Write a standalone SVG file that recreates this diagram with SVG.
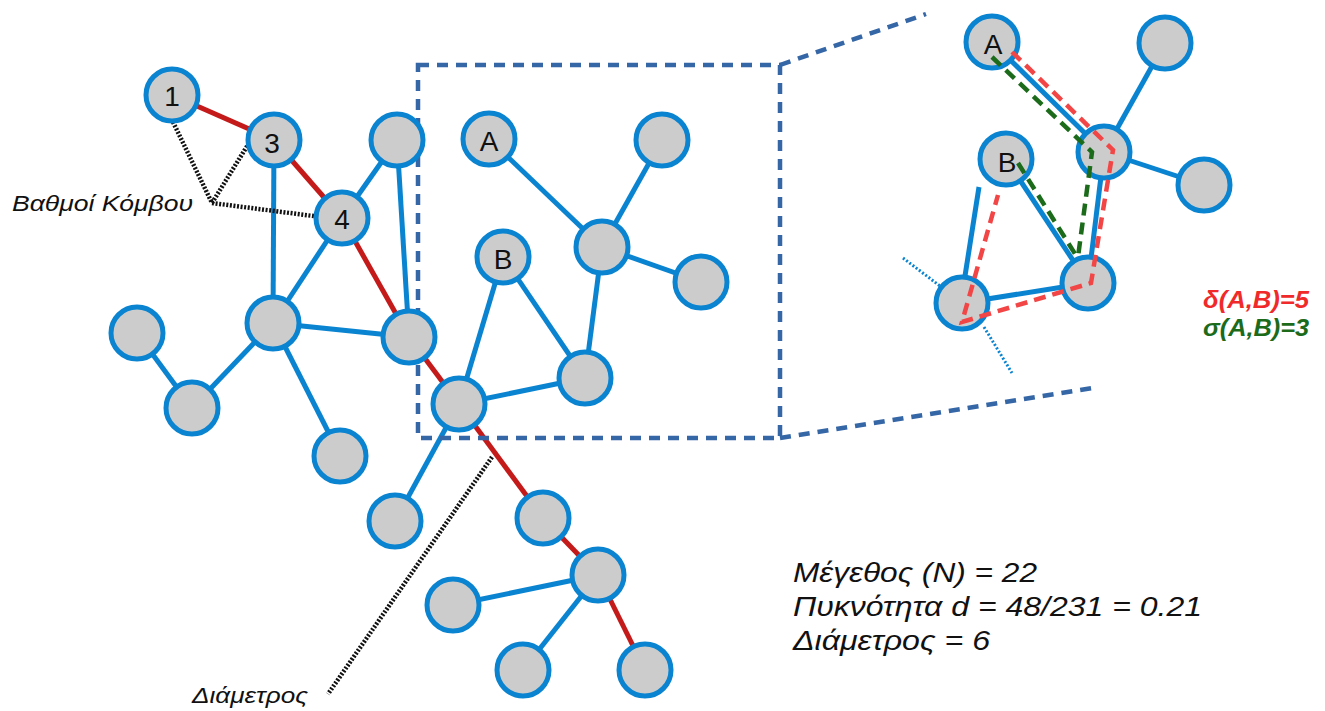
<svg xmlns="http://www.w3.org/2000/svg" width="1325" height="711" viewBox="0 0 1325 711">
<defs>
<style>
.e{stroke:#0a84d0;stroke-width:5;fill:none}
.d{stroke:#c41a1a;stroke-width:5;fill:none}
.n circle{fill:#cccccc;stroke:#0a84d0;stroke-width:5}
.n text,.lbl{font-family:"Liberation Sans",Arial,sans-serif;fill:#111}
.n text{font-size:28px;text-anchor:middle}
.box{stroke:#3566a6;stroke-width:4.5;fill:none;stroke-dasharray:11 8}
.dot{stroke:#111;stroke-width:4.5;fill:none;stroke-dasharray:2 1.6}
.bdot{stroke:#0a84d0;stroke-width:3;fill:none;stroke-dasharray:2 2}
.rp{stroke:#f24545;stroke-width:4.5;fill:none;stroke-dasharray:12 7}
.gp{stroke:#1b6b1b;stroke-width:4.5;fill:none;stroke-dasharray:12 7}
.it{font-style:italic}
.res{font-family:"Liberation Sans",Arial,sans-serif;font-size:24px;font-weight:bold;font-style:italic}
</style>
</defs>
<rect width="1325" height="711" fill="#ffffff"/>
<g id="connectors">
<line class="e" x1="274" y1="140" x2="273" y2="323"/>
<line class="e" x1="342" y1="218" x2="397" y2="140"/>
<line class="e" x1="342" y1="218" x2="273" y2="323"/>
<line class="e" x1="397" y1="140" x2="409" y2="337"/>
<line class="e" x1="273" y1="323" x2="409" y2="337"/>
<line class="e" x1="273" y1="323" x2="192" y2="408"/>
<line class="e" x1="273" y1="323" x2="340" y2="455"/>
<line class="e" x1="137" y1="333" x2="192" y2="408"/>
<line class="e" x1="459" y1="404" x2="503" y2="257"/>
<line class="e" x1="459" y1="404" x2="585" y2="378"/>
<line class="e" x1="503" y1="257" x2="585" y2="378"/>
<line class="e" x1="585" y1="378" x2="602" y2="247"/>
<line class="e" x1="602" y1="247" x2="489" y2="139"/>
<line class="e" x1="602" y1="247" x2="662" y2="140"/>
<line class="e" x1="602" y1="247" x2="701" y2="282"/>
<line class="e" x1="459" y1="404" x2="395" y2="521"/>
<line class="e" x1="598" y1="575" x2="453" y2="605"/>
<line class="e" x1="598" y1="575" x2="523" y2="670"/>
<line class="d" x1="172" y1="95" x2="274" y2="140"/>
<line class="d" x1="274" y1="140" x2="342" y2="218"/>
<line class="d" x1="342" y1="218" x2="409" y2="337"/>
<line class="d" x1="409" y1="337" x2="459" y2="404"/>
<line class="d" x1="459" y1="404" x2="543" y2="518"/>
<line class="d" x1="543" y1="518" x2="598" y2="575"/>
<line class="d" x1="598" y1="575" x2="645" y2="670"/>
<polyline class="dot" points="173,122 212,203 249,143"/>
<line class="dot" x1="212" y1="203" x2="321" y2="217"/>
<line class="dot" x1="492" y1="457" x2="328" y2="694"/>
<rect class="box" x="418" y="65" width="362" height="373"/>
<line class="box" x1="780" y1="65" x2="926" y2="14"/>
<line class="box" x1="780" y1="438" x2="1093" y2="388"/>
<line class="e" x1="992" y1="42" x2="1104" y2="152"/>
<line class="e" x1="1104" y1="152" x2="1165" y2="43"/>
<line class="e" x1="1104" y1="152" x2="1204" y2="185"/>
<line class="e" x1="1104" y1="152" x2="1088" y2="283"/>
<line class="e" x1="1006" y1="159" x2="1088" y2="283"/>
<line class="e" x1="1088" y1="283" x2="962" y2="303"/>
<line class="e" x1="979" y1="187" x2="962" y2="295"/>
<line class="bdot" x1="903" y1="258" x2="940" y2="286"/>
<line class="bdot" x1="984" y1="327" x2="1012" y2="373"/>
</g>
<g id="n1" class="n"><circle cx="172" cy="95" r="26"/><text x="172" y="106">1</text></g>
<g id="n3" class="n"><circle cx="274" cy="140" r="26"/><text x="272" y="153">3</text></g>
<g id="n4" class="n"><circle cx="342" cy="218" r="26"/><text x="342" y="229">4</text></g>
<g id="nTR" class="n"><circle cx="397" cy="140" r="26"/></g>
<g id="nM" class="n"><circle cx="273" cy="323" r="26"/></g>
<g id="nR" class="n"><circle cx="409" cy="337" r="26"/></g>
<g id="nL1" class="n"><circle cx="137" cy="333" r="26"/></g>
<g id="nL2" class="n"><circle cx="192" cy="408" r="26"/></g>
<g id="nB1" class="n"><circle cx="340" cy="456" r="26"/></g>
<g id="nX" class="n"><circle cx="459" cy="404" r="26"/></g>
<g id="nA" class="n"><circle cx="489" cy="139" r="26"/><text x="489" y="151">A</text></g>
<g id="nB" class="n"><circle cx="503" cy="257" r="26"/><text x="503" y="269">B</text></g>
<g id="nHub" class="n"><circle cx="602" cy="247" r="26"/></g>
<g id="nTop" class="n"><circle cx="662" cy="140" r="26"/></g>
<g id="nRight" class="n"><circle cx="701" cy="282" r="26"/></g>
<g id="nLow" class="n"><circle cx="585" cy="378" r="26"/></g>
<g id="nXd" class="n"><circle cx="395" cy="521" r="26"/></g>
<g id="nD1" class="n"><circle cx="543" cy="518" r="26"/></g>
<g id="nD2" class="n"><circle cx="598" cy="575" r="26"/></g>
<g id="nD3" class="n"><circle cx="453" cy="605" r="26"/></g>
<g id="nD4" class="n"><circle cx="523" cy="670" r="26"/></g>
<g id="nD5" class="n"><circle cx="645" cy="670" r="26"/></g>
<g id="iA" class="n"><circle cx="992" cy="42" r="26"/><text x="993" y="54">A</text></g>
<g id="iTop" class="n"><circle cx="1165" cy="43" r="26"/></g>
<g id="iHub" class="n"><circle cx="1104" cy="152" r="26"/></g>
<g id="iRight" class="n"><circle cx="1204" cy="185" r="26"/></g>
<g id="iB" class="n"><circle cx="1006" cy="159" r="26"/><text x="1007" y="172">B</text></g>
<g id="iLow" class="n"><circle cx="1088" cy="283" r="26"/></g>
<g id="iX" class="n"><circle cx="962" cy="303" r="26"/></g>
<g id="paths">
<polyline class="rp" points="1012,52 1113,150 1091,283 962,322 998,195"/>
<polyline class="gp" points="992,57 1092,152 1078,257"/>
<line class="gp" x1="1018" y1="163" x2="1077" y2="257"/>
</g>
<g id="labels">
<text class="lbl it" x="12" y="211" font-size="23" textLength="181" lengthAdjust="spacingAndGlyphs">Βαθμοί Κόμβου</text>
<text class="lbl it" x="192" y="703" font-size="23" textLength="116" lengthAdjust="spacingAndGlyphs">Διάμετρος</text>
<text class="res" x="1203" y="308" fill="#f02a2a" textLength="106" lengthAdjust="spacingAndGlyphs">δ(A,B)=5</text>
<text class="res" x="1203" y="336" fill="#1b6b1b" textLength="106" lengthAdjust="spacingAndGlyphs">σ(A,B)=3</text>
<text class="lbl it" x="793" y="582" font-size="28" textLength="244" lengthAdjust="spacingAndGlyphs">Μέγεθος (N) = 22</text>
<text class="lbl it" x="793" y="616" font-size="28" textLength="409" lengthAdjust="spacingAndGlyphs">Πυκνότητα d = 48/231 = 0.21</text>
<text class="lbl it" x="793" y="650" font-size="28" textLength="197" lengthAdjust="spacingAndGlyphs">Διάμετρος = 6</text>
</g>
</svg>
